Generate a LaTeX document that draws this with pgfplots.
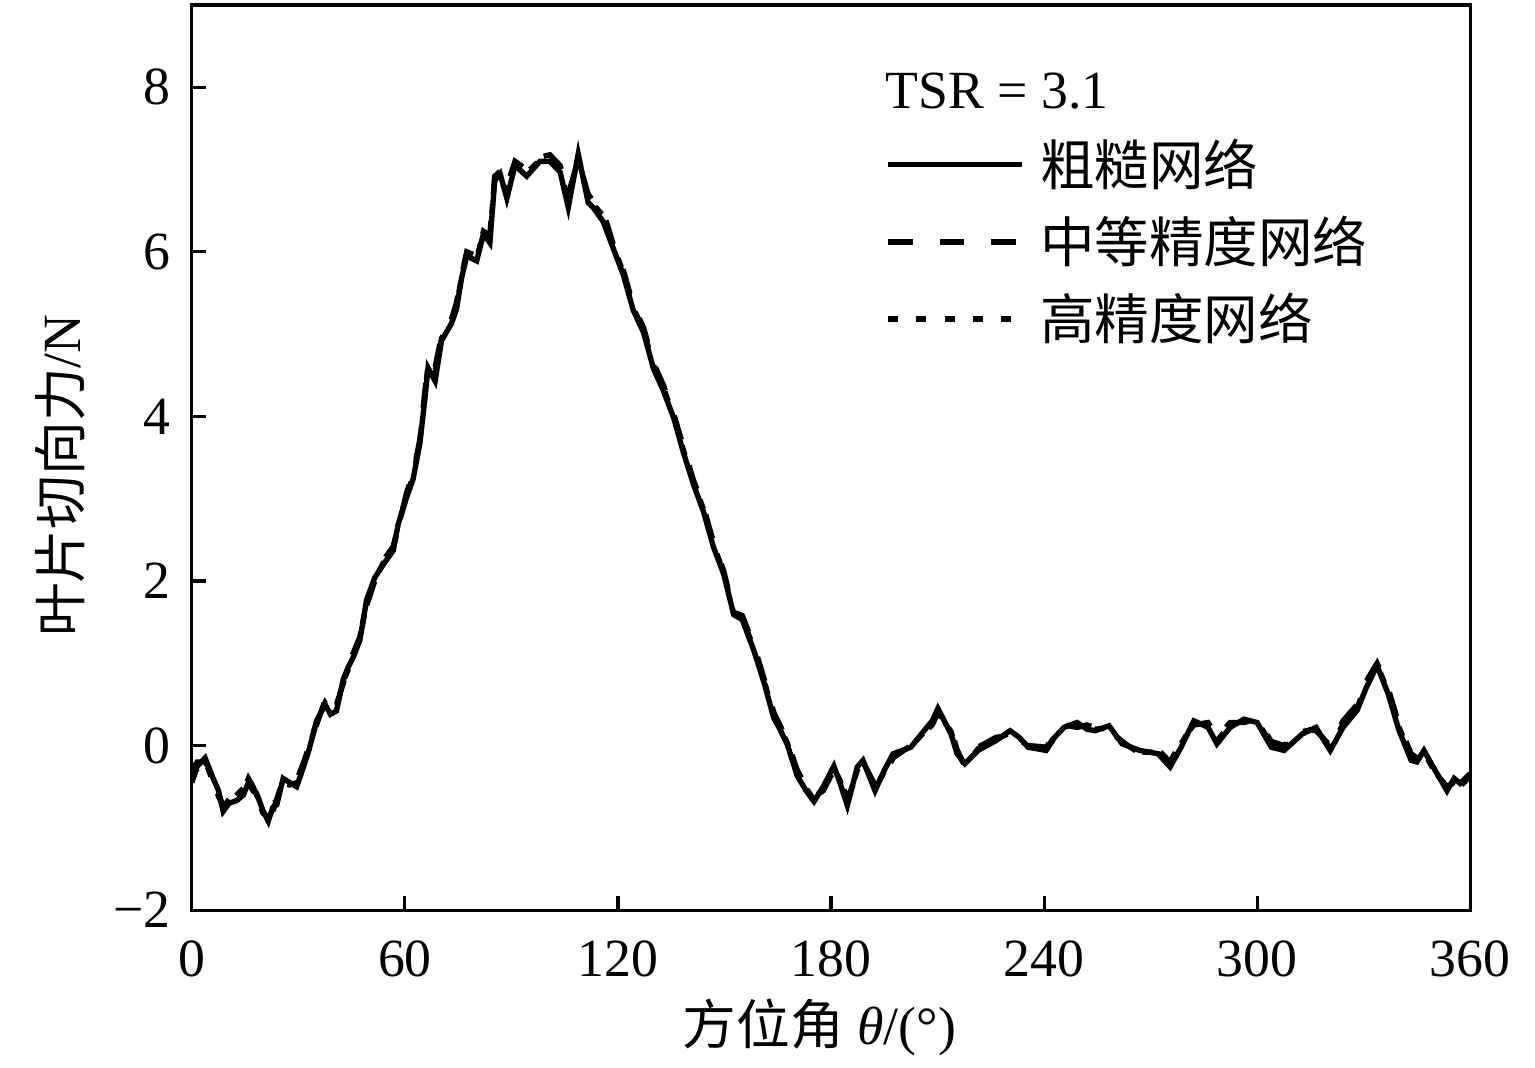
\documentclass[border=0pt]{standalone}
\usepackage{pgfplots}
\pgfplotsset{compat=1.18}
\usepackage{pgfplotstable}
\usepackage{fontspec}
\setmainfont{Liberation Serif}
\newfontfamily\cjk{Noto Sans CJK SC}

\pgfplotstableread{
x y
0 -0.45
1.5 -0.25
3.7 -0.15
6 -0.40
7.5 -0.55
8.8 -0.80
10.5 -0.70
12.6 -0.67
14.5 -0.60
15.9 -0.45
17.2 -0.55
18.2 -0.58
20 -0.79
21.5 -0.92
22.8 -0.75
23.9 -0.72
25.7 -0.40
27.5 -0.45
29.5 -0.50
31.5 -0.25
33 -0.05
35.1 0.30
37.5 0.50
39 0.38
40.7 0.42
42.6 0.80
44 0.95
45.4 1.07
47.3 1.28
49.2 1.77
51.5 2.04
53.9 2.20
56.7 2.37
58.1 2.69
60.5 3.02
62.3 3.24
64.2 3.67
65.6 4.21
66.5 4.59
68.5 4.43
70.3 4.92
73.1 5.13
74.5 5.30
75.9 5.67
77.4 5.95
80.2 5.89
82.1 6.22
83.9 6.11
85.3 6.87
86.8 6.95
88.7 6.65
91 7.05
94.3 6.92
98 7.10
100.8 7.10
103.7 6.97
106 6.54
108.8 7.19
111.6 6.60
113 6.54
115.8 6.37
118.6 6.05
121.5 5.72
124.3 5.29
127.2 5.02
130 4.58
132.8 4.31
135.7 3.98
138.5 3.55
141.3 3.17
144.1 2.84
146.9 2.41
149.8 2.08
152.6 1.59
155 1.53
158.3 1.15
161.1 0.77
163.9 0.33
165.6 0.20
167.7 0.01
170.5 -0.37
173 -0.55
175.2 -0.68
177.8 -0.50
180.8 -0.25
182.5 -0.45
184.6 -0.73
187.4 -0.26
189 -0.18
192.4 -0.55
195 -0.30
197.5 -0.10
202.5 -0.02
206.2 0.18
208.5 0.30
210.1 0.45
213.8 0.14
215.5 -0.10
217.7 -0.22
221.4 -0.06
226.5 0.06
230.4 0.18
233 0.10
235.5 -0.02
240.6 -0.06
243 0.10
245.6 0.22
249.3 0.28
252 0.20
254.4 0.18
258.3 0.24
262 0.02
267 -0.06
272.1 -0.10
275.5 -0.26
278.6 -0.02
282.2 0.30
286.2 0.22
288.7 0.02
292.4 0.22
296.3 0.32
300 0.28
304 -0.02
307.6 -0.06
312.7 0.14
316.6 0.22
320.6 -0.06
324.2 0.22
328.2 0.43
330.7 0.70
333.8 0.97
336.9 0.63
340 0.18
343.4 -0.18
345 -0.20
347 -0.06
349.6 -0.26
353.5 -0.55
355.5 -0.40
357.2 -0.46
360 -0.34
}\coarse

\pgfplotstableread{
x y
0 -0.30
1.5 -0.20
3.7 -0.20
6 -0.35
7.5 -0.60
8.8 -0.75
10.5 -0.65
12.6 -0.62
14.5 -0.55
15.9 -0.40
17.2 -0.50
18.2 -0.60
20 -0.75
21.5 -0.85
22.8 -0.80
23.9 -0.65
25.7 -0.42
27.5 -0.40
29.5 -0.42
31.5 -0.20
33 0.00
35.1 0.25
37.5 0.55
39 0.40
40.7 0.50
42.6 0.75
44 0.98
45.4 1.12
47.3 1.32
49.2 1.70
51.5 2.00
53.9 2.25
56.7 2.42
58.1 2.65
60.5 3.08
62.3 3.30
64.2 3.72
65.6 4.30
66.5 4.65
68.5 4.60
70.3 4.98
73.1 5.18
74.5 5.38
75.9 5.70
77.4 6.00
80.2 5.95
82.1 6.25
83.9 6.20
85.3 6.92
86.8 6.98
88.7 6.80
91 7.10
94.3 7.00
98 7.15
100.8 7.18
103.7 7.05
106 6.70
108.8 7.12
111.6 6.70
113 6.62
115.8 6.50
118.6 6.10
121.5 5.78
124.3 5.35
127.2 5.08
130 4.65
132.8 4.38
135.7 4.03
138.5 3.62
141.3 3.22
144.1 2.90
146.9 2.47
149.8 2.12
152.6 1.62
155 1.58
158.3 1.22
161.1 0.82
163.9 0.40
165.6 0.25
167.7 0.05
170.5 -0.30
173 -0.50
175.2 -0.62
177.8 -0.55
180.8 -0.30
182.5 -0.40
184.6 -0.65
187.4 -0.35
189 -0.20
192.4 -0.48
195 -0.35
197.5 -0.15
202.5 0.00
206.2 0.15
208.5 0.25
210.1 0.40
213.8 0.20
215.5 -0.05
217.7 -0.25
221.4 -0.02
226.5 0.10
230.4 0.12
233 0.05
235.5 0.00
240.6 -0.02
243 0.12
245.6 0.25
249.3 0.22
252 0.25
254.4 0.22
258.3 0.18
262 0.05
267 -0.10
272.1 -0.05
275.5 -0.20
278.6 0.05
282.2 0.25
286.2 0.28
288.7 0.10
292.4 0.28
296.3 0.28
300 0.32
304 0.05
307.6 0.00
312.7 0.20
316.6 0.18
320.6 0.00
324.2 0.30
328.2 0.50
330.7 0.78
333.8 1.00
336.9 0.70
340 0.25
343.4 -0.10
345 -0.15
347 -0.12
349.6 -0.30
353.5 -0.50
355.5 -0.45
357.2 -0.55
360 -0.40
}\medium

\pgfplotstableread{
x y
0 -0.38
1.5 -0.28
3.7 -0.18
6 -0.45
7.5 -0.62
8.8 -0.72
10.5 -0.68
12.6 -0.60
14.5 -0.52
15.9 -0.38
17.2 -0.52
18.2 -0.62
20 -0.82
21.5 -0.88
22.8 -0.70
23.9 -0.68
25.7 -0.45
27.5 -0.48
29.5 -0.45
31.5 -0.22
33 -0.02
35.1 0.28
37.5 0.52
39 0.42
40.7 0.45
42.6 0.78
44 0.92
45.4 1.10
47.3 1.30
49.2 1.74
51.5 2.02
53.9 2.22
56.7 2.40
58.1 2.67
60.5 3.05
62.3 3.27
64.2 3.70
65.6 4.25
66.5 4.62
68.5 4.50
70.3 4.95
73.1 5.15
74.5 5.34
75.9 5.68
77.4 5.98
80.2 5.92
82.1 6.24
83.9 6.15
85.3 6.90
86.8 6.96
88.7 6.72
91 7.07
94.3 6.96
98 7.12
100.8 7.15
103.7 7.00
106 6.62
108.8 7.15
111.6 6.65
113 6.58
115.8 6.44
118.6 6.08
121.5 5.75
124.3 5.32
127.2 5.05
130 4.62
132.8 4.35
135.7 4.00
138.5 3.58
141.3 3.20
144.1 2.87
146.9 2.44
149.8 2.10
152.6 1.60
155 1.55
158.3 1.18
161.1 0.80
163.9 0.36
165.6 0.22
167.7 0.03
170.5 -0.34
173 -0.52
175.2 -0.66
177.8 -0.52
180.8 -0.28
182.5 -0.42
184.6 -0.70
187.4 -0.30
189 -0.19
192.4 -0.52
195 -0.32
197.5 -0.12
202.5 -0.01
206.2 0.16
208.5 0.28
210.1 0.42
213.8 0.17
215.5 -0.08
217.7 -0.24
221.4 -0.04
226.5 0.08
230.4 0.15
233 0.08
235.5 -0.01
240.6 -0.04
243 0.11
245.6 0.24
249.3 0.25
252 0.22
254.4 0.20
258.3 0.21
262 0.04
267 -0.08
272.1 -0.08
275.5 -0.23
278.6 0.02
282.2 0.28
286.2 0.25
288.7 0.06
292.4 0.25
296.3 0.30
300 0.30
304 0.02
307.6 -0.03
312.7 0.17
316.6 0.20
320.6 -0.03
324.2 0.26
328.2 0.46
330.7 0.74
333.8 0.98
336.9 0.66
340 0.22
343.4 -0.14
345 -0.18
347 -0.09
349.6 -0.28
353.5 -0.52
355.5 -0.42
357.2 -0.50
360 -0.37
}\fine

\begin{document}
\begin{tikzpicture}
\useasboundingbox (-50pt,-40.9pt) rectangle (349.9pt,237.1pt);
\begin{axis}[
  at={(0,0)}, anchor=south west,
  scale only axis,
  width=333pt, height=235.8pt,
  xmin=0, xmax=360, ymin=-2, ymax=9,
  xtick={0,60,120,180,240,300,360},
  xticklabels={0,60,120,180,240,300,360},
  ytick={-2,0,2,4,6,8},
  yticklabels={−2,0,2,4,6,8},
  xtick pos=left, ytick pos=left,
  tick align=inside,
  major tick length=3.6pt,
  axis line style={line width=0.8pt},
  every tick/.style={line width=0.8pt, black},
  ticklabel style={font=\fontsize{14}{16}\selectfont},
  xticklabel style={yshift=-4.5pt},
  yticklabel style={xshift=-2pt},
  every axis x label/.style={at={(axis description cs:0.491,-0.13)}, anchor=center, font=\fontsize{14}{16}\selectfont},
  every axis y label/.style={at={(axis description cs:-0.103,0.48)}, rotate=90, anchor=center, font=\fontsize{14}{16}\selectfont},
  xlabel={{\cjk 方位角} \textit{θ}/(°)},
  ylabel={{\cjk 叶片切向力}/N},
  legend style={draw=none, fill=none, at={(axis cs:195,7.48)}, anchor=north west,
    font=\fontsize{14.2}{16}\selectfont, row sep=2.5pt, inner sep=0pt},
  legend cell align=left,
  legend image code/.code={\draw[#1] (0pt,0pt) -- (35pt,0pt);},
  /tikz/every odd column/.append style={column sep=2pt},
]
\addplot[black, line width=1.4pt] table[x=x,y=y] {\coarse};
\addlegendentry{\cjk 粗糙网络}
\addplot[black, line width=1.4pt, dash pattern=on 6.5pt off 7pt] table[x=x,y=y] {\medium};
\addlegendentry{\cjk 中等精度网络}
\addplot[black, line width=1.4pt, dash pattern=on 2.6pt off 4.8pt] table[x=x,y=y] {\fine};
\addlegendentry{\cjk 高精度网络}
\node[anchor=west, font=\fontsize{14}{16}\selectfont, inner sep=0pt] at (axis cs:195.2,7.95) {TSR = 3.1};
\end{axis}
\end{tikzpicture}
\end{document}
